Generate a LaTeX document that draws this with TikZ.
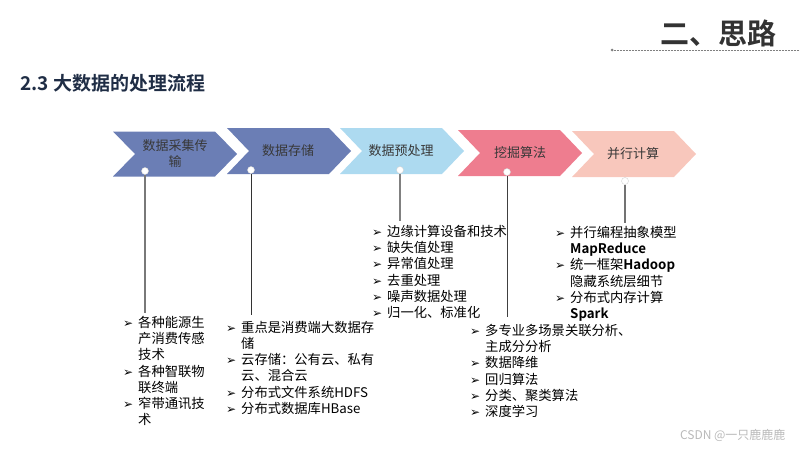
\documentclass[tikz,border=0pt]{standalone}
\usepackage{fontspec}
\setmainfont{Noto Sans CJK SC}[BoldFont={Noto Sans CJK SC Bold}]
\newfontfamily\symfont{DejaVu Sans}
\usepackage{tikz}
\usetikzlibrary{calc,positioning}
\usepackage{xcolor}
\definecolor{lanA}{HTML}{6B7EB5}
\definecolor{lanB}{HTML}{ADDAF0}
\definecolor{hongA}{HTML}{EE7D8F}
\definecolor{hongB}{HTML}{F8C7BC}
\definecolor{navy}{HTML}{1F2D45}
\definecolor{hdr}{HTML}{333333}
\newcommand{\itm}{\makebox[15pt][l]{\symfont\fontsize{12}{16}\selectfont ➢}}
\newcommand{\hng}{\hspace*{15pt}}

\begin{document}
\begin{tikzpicture}[x=1pt,y=-1pt,
    lbl/.style={font=\fontsize{13}{16}\selectfont, text=black!78, align=center},
    blk/.style={font=\fontsize{13.3}{16.2}\selectfont, align=left, anchor=north west, inner sep=0pt},
    dot/.style={circle, fill=white, draw=gray!35, inner sep=0pt, minimum size=7pt}]
    \useasboundingbox (0,0) rectangle (800,450);

    % 标题
    \node[font=\fontsize{29}{30}\selectfont\bfseries, text=hdr, anchor=east] (hd) at (780,33) {二、思路};
    \node[circle, fill=gray, inner sep=0pt, minimum size=3pt] (hp) at (612,50) {};
    \coordinate (he) at (800,50);
    \draw[gray, dash pattern=on 0.6pt off 0.9pt] (hp) -- (he);
    \node[font=\fontsize{19}{20}\selectfont\bfseries, text=navy, anchor=west, inner sep=0pt] (tt) at (20,83) {2.3 大数据的处理流程};

    % 五个箭头
    \fill[lanA]  (113,131.5) -- ++(102,0) -- ++(22,22.5) -- ++(-22,22.5) -- ++(-102,0) -- ++(22,-22.5) -- cycle;
    \fill[lanA]  (227,128) -- ++(102,0) -- ++(22,23) -- ++(-22,23) -- ++(-102,0) -- ++(22,-23) -- cycle;
    \fill[lanB]  (340,128) -- ++(102,0) -- ++(22,23) -- ++(-22,23) -- ++(-102,0) -- ++(22,-23) -- cycle;
    \fill[hongA] (458,130) -- ++(102,0) -- ++(22,23) -- ++(-22,23) -- ++(-102,0) -- ++(22,-23) -- cycle;
    \fill[hongB] (572,131) -- ++(102,0) -- ++(22,23) -- ++(-22,23) -- ++(-102,0) -- ++(22,-23) -- cycle;

    \node[lbl] (c1) at (175,154) {数据采集传\\输};
    \node[lbl] (c2) at (288,151) {数据存储};
    \node[lbl] (c3) at (401,151) {数据预处理};
    \node[lbl] (c4) at (520,153) {挖掘算法};
    \node[lbl] (c5) at (633,154) {并行计算};

    % 各步骤说明
    \node[blk] (b1) at (123,316) {\itm 各种能源生\\ \hng 产消费传感\\ \hng 技术\\ \itm 各种智联物\\ \hng 联终端\\ \itm 窄带通讯技\\ \hng 术};
    \node[blk] (b2) at (226,321) {\itm 重点是消费端大数据存\\ \hng 储\\ \itm 云存储：公有云、私有\\ \hng 云、混合云\\ \itm 分布式文件系统HDFS\\ \itm 分布式数据库HBase};
    \node[blk] (b3) at (372,225) {\itm 边缘计算设备和技术\\ \itm 缺失值处理\\ \itm 异常值处理\\ \itm 去重处理\\ \itm 噪声数据处理\\ \itm 归一化、标准化};
    \node[blk] (b4) at (470,324) {\itm 多专业多场景关联分析、\\ \hng 主成分分析\\ \itm 数据降维\\ \itm 回归算法\\ \itm 分类、聚类算法\\ \itm 深度学习};
    \node[blk] (b5) at (555,226) {\itm 并行编程抽象模型\\ \hng \textbf{MapReduce}\\ \itm 统一框架\textbf{Hadoop}\\ \hng 隐藏系统层细节\\ \itm 分布式内存计算\\ \hng \textbf{Spark}};

    % 连线
    \node[dot] (d1) at (145,171) {};
    \node[dot] (d2) at (251,170) {};
    \node[dot] (d3) at (400,170) {};
    \node[dot] (d4) at (507,172) {};
    \node[dot] (d5) at (625,181) {};
    \draw[gray!95!black, line width=1.5pt, shorten >=3pt] (d1) -- (d1 |- b1.north);
    \draw[black!80, line width=1pt, shorten >=6pt] (d2) -- (d2 |- b2.north);
    \draw[gray, line width=1.5pt, shorten >=4pt] (d3) -- (d3 |- b3.north);
    \draw[black!75, line width=1pt, shorten >=7pt] (d4) -- (d4 |- b4.north);
    \draw[gray!90!black, line width=1.2pt, shorten >=3pt] (d5) -- (d5 |- b5.north);

    % 水印
    \node[font=\fontsize{12}{14}\selectfont, text=gray!55, anchor=east] (wm) at (789,435) {CSDN @一只鹿鹿鹿};
\end{tikzpicture}
\end{document}
